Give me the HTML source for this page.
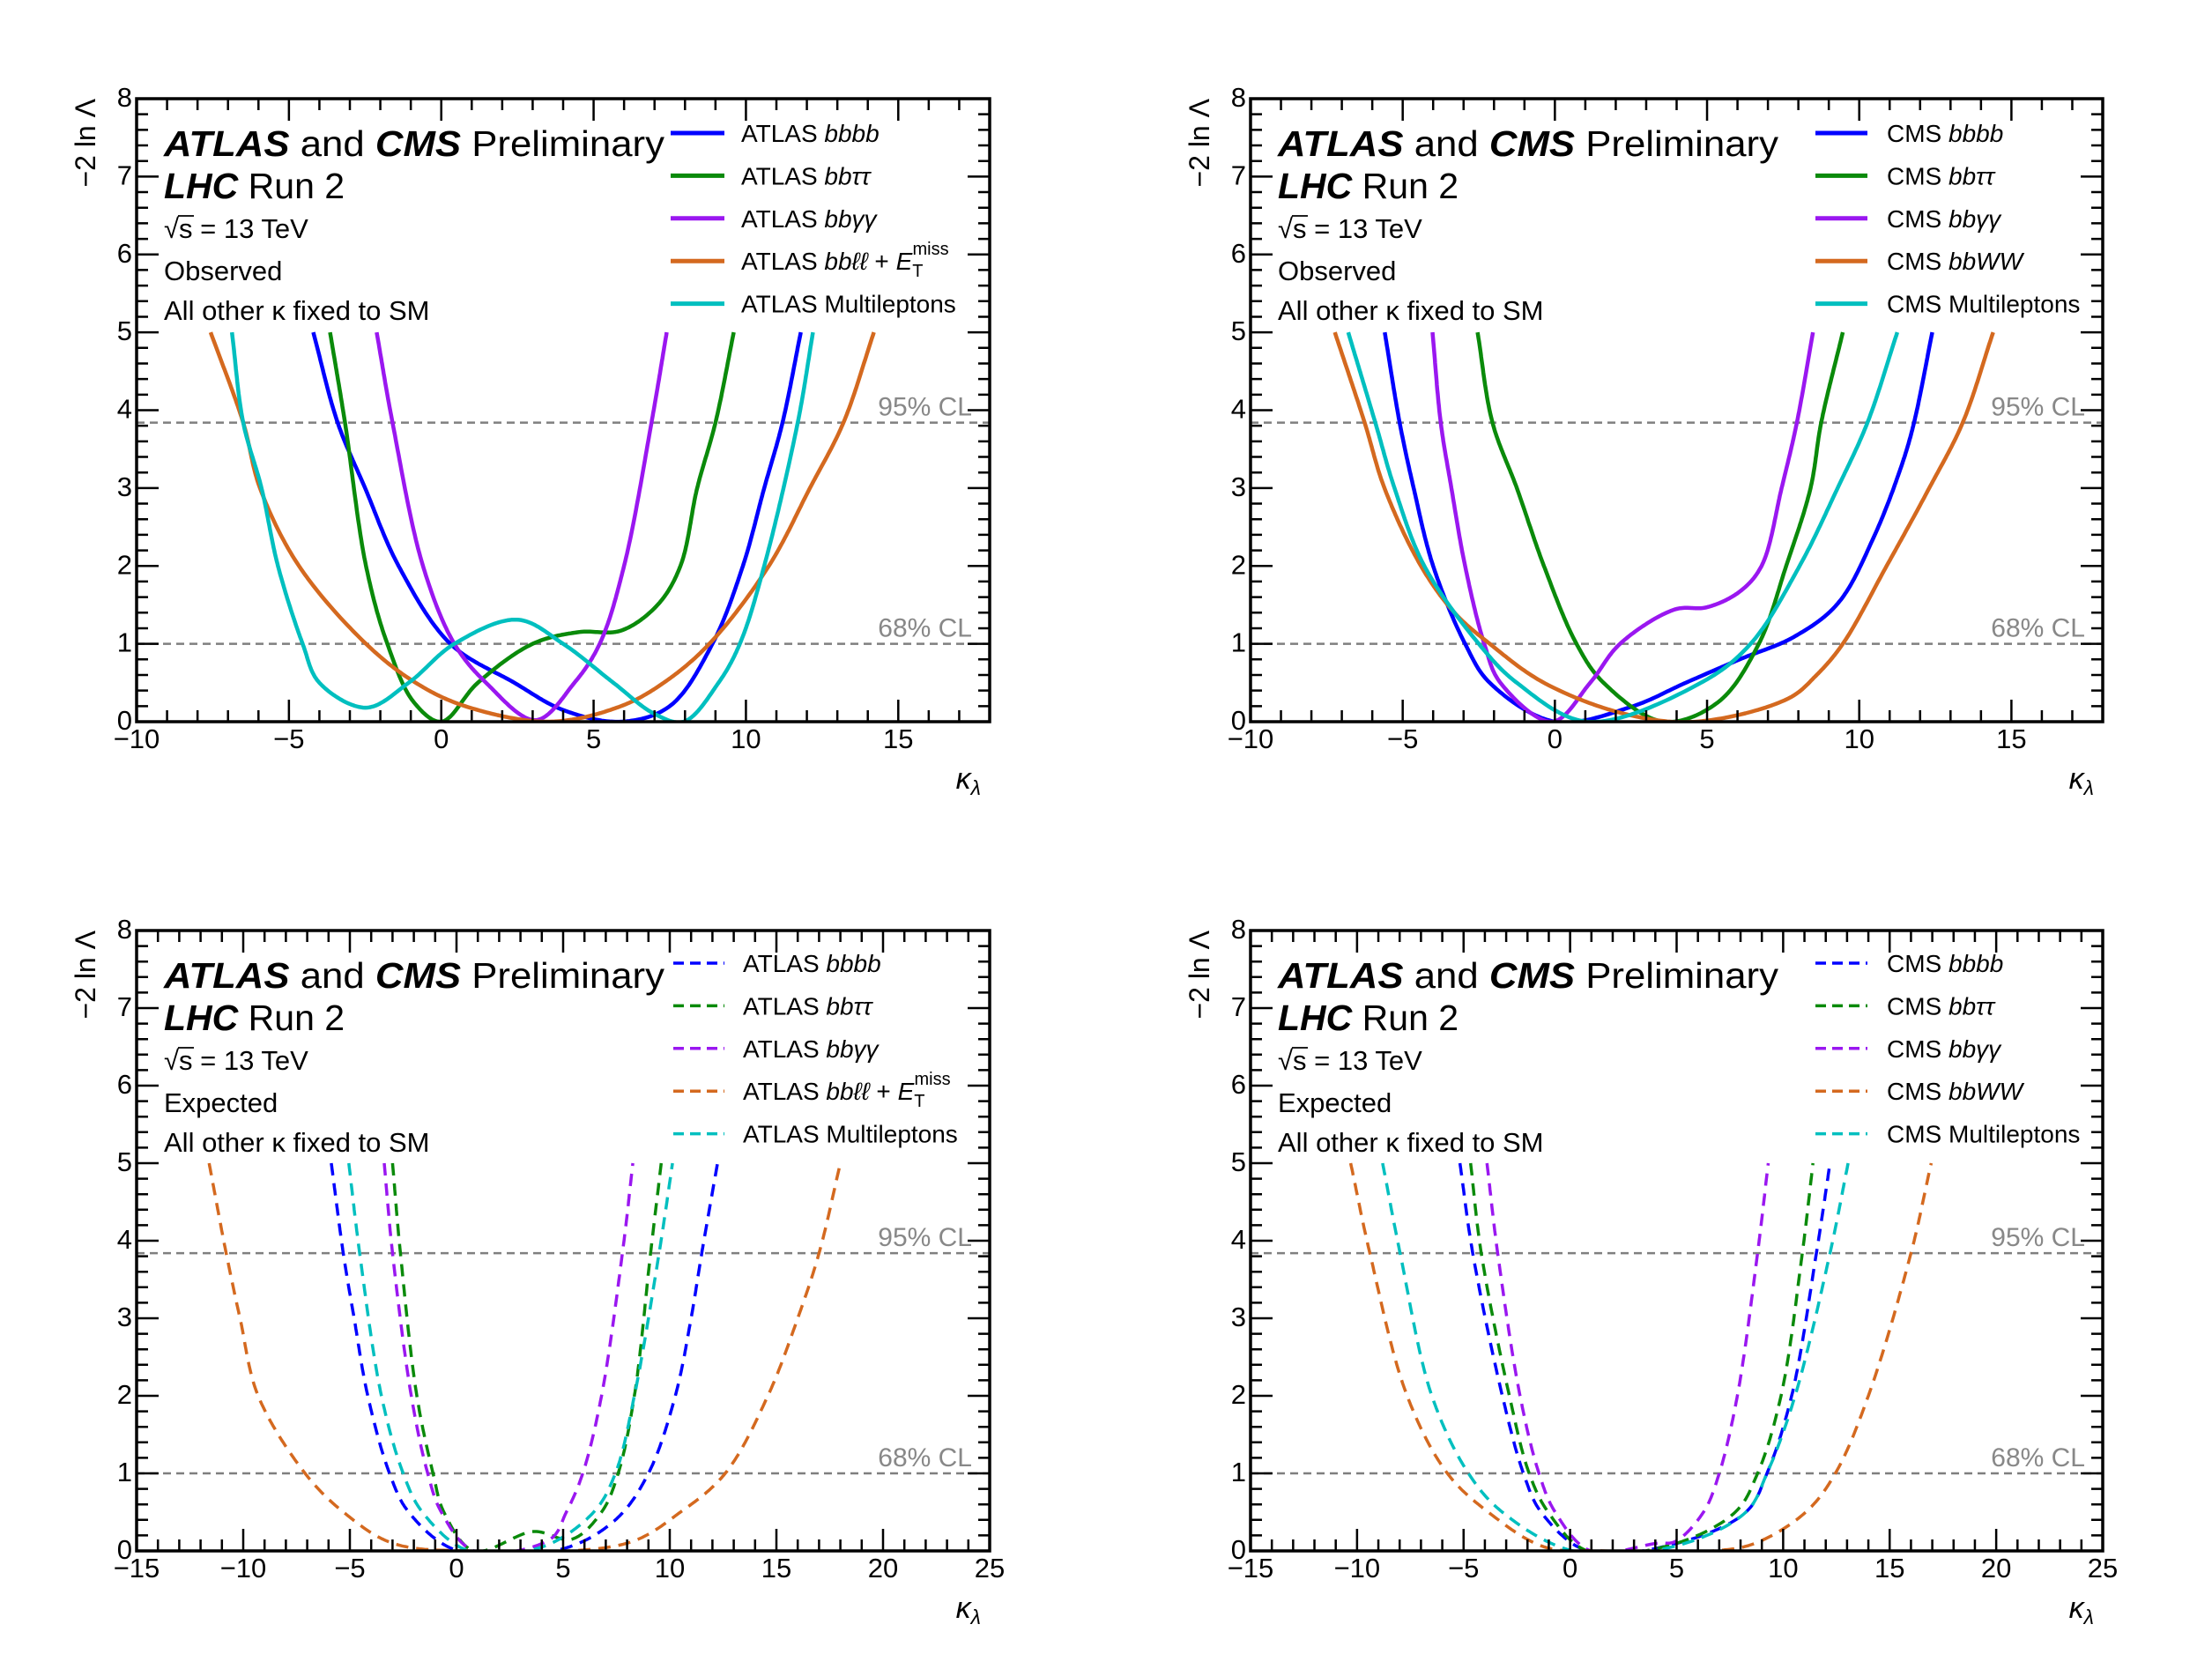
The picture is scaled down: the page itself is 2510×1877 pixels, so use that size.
<!DOCTYPE html>
<html><head><meta charset="utf-8">
<style>
html,body{margin:0;padding:0;background:#fff;}
svg{display:block;font-family:"Liberation Sans","DejaVu Sans",sans-serif;}
</style></head>
<body>
<svg id="fig" xmlns="http://www.w3.org/2000/svg" width="2510" height="1877" viewBox="0 0 2510 1877"></svg>
<script>
// ---------- DATA (kappa_lambda values and -2 ln Lambda values) ----------
// Panel A: ATLAS observed
const kA_bbbb=[-4.2,-3.4,-2.5,-1.4,0.3,2.4,4.0,5.9,7.5,8.9,9.9,10.6,11.2,11.8];
const yA_bbbb=[5,3.84,3,2,1,0.5,0.15,0,0.2,1,2,3,3.84,5];
const kA_bbtt=[-3.65,-3.16,-2.47,-1.77,-0.9,0,1.2,3.0,4.5,5.9,7.1,7.85,8.4,9.0,9.6];
const yA_bbtt=[5,3.84,2,1,0.25,0,0.5,1,1.15,1.17,1.5,2,3,3.84,5];
const kA_bbgg=[-2.12,-1.6,-0.6,0.43,1.47,3.1,4.37,5.2,6.0,6.9,7.4];
const yA_bbgg=[5,3.84,2,1,0.5,0.02,0.5,1,2,3.84,5];
const kA_bbll=[-7.57,-6.5,-5.95,-4.67,-2.47,-0.84,0.78,3.56,5.9,7.3,8.8,10.75,12.1,13.2,14.2];
const yA_bbll=[5,3.84,3,2,1,0.5,0.2,0,0.2,0.5,1,2,3,3.84,5];
const kA_ml=[-6.87,-6.5,-5.9,-5.36,-4.55,-4.0,-2.47,-1.07,0.43,2.5,4.0,5.65,7.0,7.96,9.1,9.8,10.6,11.7,12.2];
const yA_ml=[5,3.84,3,2,1,0.5,0.18,0.5,1,1.31,1,0.5,0.1,0,0.5,1,2,3.84,5];
// Panel B: CMS observed
const kB_bbbb=[-5.59,-5.1,-4.64,-4.0,-2.95,-2.14,0,2.5,4.3,6.07,7.86,9.3,10.5,11.4,11.8,12.4];
const yB_bbbb=[5,3.84,3,2,1,0.5,0,0.19,0.5,0.8,1.09,1.52,2.39,3.3,3.84,5];
const kB_bbtt=[-2.54,-2.05,-1.25,-0.36,0.71,1.6,3.57,5.36,6.7,7.6,8.4,8.75,9.46];
const yB_bbtt=[5,3.84,3,2,1,0.5,0,0.25,1,2,3,3.84,5];
const kB_bbgg=[-4.02,-3.75,-3.4,-2.95,-2.32,-1.79,-0.09,1.16,2.14,3.93,5.0,6.07,6.79,7.45,7.95,8.48];
const yB_bbgg=[5,3.84,3,2,1,0.5,0,0.5,1,1.44,1.47,1.67,2,3,3.84,5];
const kB_bbww=[-7.23,-6.25,-5.6,-4.4,-3.3,-2.14,-0.36,2.3,4.64,7.68,8.6,9.46,10.9,12.3,13.4,14.4];
const yB_bbww=[5,3.84,3,2,1.4,1,0.5,0.1,0,0.3,0.6,1,2,3,3.84,5];
const kB_ml=[-6.79,-5.9,-5.27,-4.29,-2.5,-1.25,1.07,4.8,6.43,8.04,9.29,10.27,11.25];
const yB_ml=[5,3.84,3,2,1,0.5,0,0.5,1,2,3,3.84,5];
// Panel C: ATLAS expected
const kC_bbbb=[-5.87,-5.31,-4.8,-4.16,-3.14,-2.24,0.05,4.9,7.45,9.0,10.26,11.0,11.5,12.24];
const yC_bbbb=[5,3.84,3,2,1,0.5,0,0.02,0.4,1,2,3,3.84,5];
const kC_bbtt=[-3.0,-2.63,-1.86,-1.1,-0.59,0.82,3.62,5.4,6.8,7.58,8.34,9.1,9.6];
const yC_bbtt=[5,3.84,2,1,0.5,0,0.25,0.15,0.5,1,2,3.84,5];
const kC_bbgg=[-3.39,-3.0,-2.12,-1.35,-0.71,0.82,4.39,5.15,5.92,6.8,7.78,8.27];
const yC_bbgg=[5,3.84,2,1,0.5,0,0.15,0.5,1,2,3.84,5];
const kC_bbll=[-11.6,-10.8,-10.15,-9.3,-7.1,-5.3,-3.0,0.8,8.0,10.5,12.6,14.6,16.0,17.0,18.0];
const yC_bbll=[5,3.84,3,2,1,0.5,0.1,0,0.1,0.5,1,2,3,3.84,5];
const kC_ml=[-5.05,-4.54,-3.52,-2.5,-1.6,0.56,4.0,6.43,7.45,8.34,9.5,10.13];
const yC_ml=[5,3.84,2,1,0.5,0,0.05,0.5,1,2,3.84,5];
// Panel D: CMS expected
const kD_bbbb=[-5.17,-4.57,-3.18,-2.19,-1.36,0.8,4.77,8.25,9.24,10.4,11.56,12.2];
const yD_bbbb=[5,3.84,2,1,0.5,0,0.08,0.5,1,2,3.84,5];
const kD_bbtt=[-4.67,-4.17,-2.85,-1.92,-1.03,0.8,4.77,7.75,8.8,9.9,10.9,11.4];
const yD_bbtt=[5,3.84,2,1,0.5,0,0.08,0.5,1,2,3.84,5];
const kD_bbgg=[-3.9,-3.4,-2.35,-1.46,-0.7,0.96,4.1,4.93,6.26,7.0,7.85,8.8,9.3];
const yD_bbgg=[5,3.84,2,1,0.5,0,0.1,0.12,0.5,1,2,3.84,5];
const kD_bbww=[-10.3,-9.4,-7.65,-5.76,-3.84,-1.2,1.5,6.75,8.7,11.06,12.45,14.0,16.0,16.95];
const yD_bbww=[5,3.84,2,1,0.5,0.05,0,0,0.1,0.5,1,2,3.84,5];
const kD_ml=[-8.8,-7.98,-6.49,-4.77,-3.18,0.13,4.77,8.25,9.24,10.56,12.2,13.05];
const yD_ml=[5,3.84,2,1,0.5,0,0.05,0.5,1,2,3.84,5];
// axis tick labels
const xTicksTop=[-10,-5,0,5,10,15];
const xTicksBot=[-15,-10,-5,0,5,10,15,20,25];
const yTicks=[0,1,2,3,4,5,6,7,8];
const clLevels=[1,3.84];
const clLabels=["68% CL","95% CL"];

// ---------- RENDER ----------
const NS="http://www.w3.org/2000/svg";
const svg=document.getElementById('fig');
function mk(tag,attrs,parent){const e=document.createElementNS(NS,tag);for(const k in attrs)e.setAttribute(k,attrs[k]);(parent||svg).appendChild(e);return e;}
const COL={blue:"#0000ff",green:"#0a8a0a",purple:"#9a17f0",orange:"#d4691f",cyan:"#00bfbf"};

// centripetal Catmull-Rom through pixel points
function crPath(pts){
  const n=pts.length;
  const P=[[2*pts[0][0]-pts[1][0],2*pts[0][1]-pts[1][1]],...pts,[2*pts[n-1][0]-pts[n-2][0],2*pts[n-1][1]-pts[n-2][1]]];
  const dist=(a,b)=>Math.max(1e-6,Math.pow(Math.hypot(b[0]-a[0],b[1]-a[1]),0.5));
  let d="M"+pts[0][0].toFixed(1)+","+pts[0][1].toFixed(1);
  for(let i=1;i<P.length-2;i++){
    const p0=P[i-1],p1=P[i],p2=P[i+1],p3=P[i+2];
    const t0=0,t1=t0+dist(p0,p1),t2=t1+dist(p1,p2),t3=t2+dist(p2,p3);
    const S=30;
    for(let j=1;j<=S;j++){
      const t=t1+(t2-t1)*j/S;
      const L=(a,b,ta,tb)=>[(tb-t)/(tb-ta)*a[0]+(t-ta)/(tb-ta)*b[0],(tb-t)/(tb-ta)*a[1]+(t-ta)/(tb-ta)*b[1]];
      const A1=L(p0,p1,t0,t1),A2=L(p1,p2,t1,t2),A3=L(p2,p3,t2,t3);
      const B1=L(A1,A2,t0,t2),B2=L(A2,A3,t1,t3);
      const C=L(B1,B2,t1,t2);
      d+="L"+C[0].toFixed(1)+","+C[1].toFixed(1);
    }
  }
  return d;
}

const panels=[
 {id:"atlas-observed",x0:155,x1:1123,y0:112,y1:819,xmin:-10,xmax:18,xt:xTicksTop,dash:false,status:"Observed",exp:"ATLAS",legLine:[606,667],legText:686,legY:39,
  series:[["ATLAS bbbb",kA_bbbb,yA_bbbb,COL.blue],["ATLAS bbtt",kA_bbtt,yA_bbtt,COL.green],["ATLAS bbgg",kA_bbgg,yA_bbgg,COL.purple],["ATLAS bbll",kA_bbll,yA_bbll,COL.orange],["ATLAS ml",kA_ml,yA_ml,COL.cyan]]},
 {id:"cms-observed",x0:1419,x1:2386,y0:112,y1:819,xmin:-10,xmax:18,xt:xTicksTop,dash:false,status:"Observed",exp:"CMS",legLine:[641,700],legText:722,legY:39,
  series:[["CMS bbbb",kB_bbbb,yB_bbbb,COL.blue],["CMS bbtt",kB_bbtt,yB_bbtt,COL.green],["CMS bbgg",kB_bbgg,yB_bbgg,COL.purple],["CMS bbww",kB_bbww,yB_bbww,COL.orange],["CMS ml",kB_ml,yB_ml,COL.cyan]]},
 {id:"atlas-expected",x0:155,x1:1123,y0:1056,y1:1760,xmin:-15,xmax:25,xt:xTicksBot,dash:true,status:"Expected",exp:"ATLAS",legLine:[609,667],legText:688,legY:37,
  series:[["ATLAS bbbb",kC_bbbb,yC_bbbb,COL.blue],["ATLAS bbtt",kC_bbtt,yC_bbtt,COL.green],["ATLAS bbgg",kC_bbgg,yC_bbgg,COL.purple],["ATLAS bbll",kC_bbll,yC_bbll,COL.orange],["ATLAS ml",kC_ml,yC_ml,COL.cyan]]},
 {id:"cms-expected",x0:1419,x1:2386,y0:1056,y1:1760,xmin:-15,xmax:25,xt:xTicksBot,dash:true,status:"Expected",exp:"CMS",legLine:[641,700],legText:722,legY:37,
  series:[["CMS bbbb",kD_bbbb,yD_bbbb,COL.blue],["CMS bbtt",kD_bbtt,yD_bbtt,COL.green],["CMS bbgg",kD_bbgg,yD_bbgg,COL.purple],["CMS bbww",kD_bbww,yD_bbww,COL.orange],["CMS ml",kD_ml,yD_ml,COL.cyan]]}
];

function legendLabel(t,name,exp){
  const map={bbbb:"bbbb",bbtt:"bbττ",bbgg:"bbγγ",bbww:"bbWW"};
  const key=name.split(' ')[1];
  if(key==="ml"){t.textContent=exp+" Multileptons";return;}
  const a=mk('tspan',{},t);a.textContent=exp+" ";
  if(key==="bbll"){
    const b=mk('tspan',{'font-style':'italic'},t);b.textContent="bbℓℓ";
    const c=mk('tspan',{},t);c.textContent=" + ";
    const d=mk('tspan',{'font-style':'italic'},t);d.textContent="E";
    const e=mk('tspan',{'font-size':'20','dy':'8'},t);e.textContent="T";
    const f=mk('tspan',{'font-size':'20','dx':'-12','dy':'-25'},t);f.textContent="miss";
    return;
  }
  const b=mk('tspan',{'font-style':'italic'},t);b.textContent=map[key];
}

panels.forEach((P,pi)=>{
  const g=mk('g',{});
  
  
  const X=k=>P.x0+(k-P.xmin)/(P.xmax-P.xmin)*(P.x1-P.x0);
  const Y=v=>P.y1-v/8*(P.y1-P.y0);
  const clipId='clip'+pi;
  const cp=mk('clipPath',{id:clipId},g);mk('rect',{x:P.x0,y:P.y0,width:P.x1-P.x0,height:P.y1-P.y0},cp);

  clLevels.forEach((v,i)=>{
    const l=mk('line',{x1:P.x0,x2:P.x1,y1:Y(v),y2:Y(v),stroke:'#7f7f7f','stroke-width':2.5,'stroke-dasharray':'9 6'},g);
    
    
    const t=mk('text',{x:P.x1-20,y:Y(v)-8,'text-anchor':'end','font-size':30,fill:'#888'},g);
    t.textContent=clLabels[i];
    
    
  });

  P.series.forEach(s=>{
    const ks=s[1],vs=s[2];
    const pts=ks.map((k,i)=>[X(k),Y(vs[i])]);
    const path=mk('path',{d:crPath(pts),fill:'none',stroke:s[3],'stroke-width':P.dash?3.5:4.5,'stroke-dasharray':P.dash?'14 9':'none','clip-path':'url(#'+clipId+')','stroke-linejoin':'round'},g);
    
    
  });

  const fr=mk('rect',{x:P.x0,y:P.y0,width:P.x1-P.x0,height:P.y1-P.y0,fill:'none',stroke:'#000','stroke-width':3.5},g);
  
  

  let td="";
  for(let k=Math.ceil(P.xmin);k<=P.xmax;k++){
    const len=(k%5===0)?25:13,x=X(k);
    td+=`M${x},${P.y1}v${-len}M${x},${P.y0}v${len}`;
  }
  for(let j=0;j<=40;j++){
    const v=j*0.2,len=(j%5===0)?25:13,y=Y(v);
    td+=`M${P.x0},${y}h${len}M${P.x1},${y}h${-len}`;
  }
  const tk=mk('path',{d:td,stroke:'#000','stroke-width':2.5,fill:'none'},g);
  
  

  P.xt.forEach(k=>{
    const t=mk('text',{x:X(k),y:P.y1+30,'text-anchor':'middle','font-size':31},g);
    t.textContent=(k<0?"−":"")+Math.abs(k);
    
    
  });
  yTicks.forEach(v=>{
    const t=mk('text',{x:P.x0-5,y:Y(v)+9,'text-anchor':'end','font-size':31},g);
    t.textContent=v;
    
    
  });
  const xt=mk('text',{x:P.x1-10,y:P.y1+76,'text-anchor':'end','font-size':34,'font-style':'italic'},g);
  
  
  const xa=mk('tspan',{},xt);xa.textContent="κ";
  const xb=mk('tspan',{'font-size':23,dy:7},xt);xb.textContent="λ";
  const yt=mk('text',{transform:`translate(${P.x0-47},${P.y0}) rotate(-90)`,'text-anchor':'end','font-size':32},g);
  yt.textContent="−2 ln Λ";
  
  

  const tx=P.x0+31;
  const t1=mk('text',{x:tx,y:P.y0+65,'font-size':41,textLength:568,lengthAdjust:'spacingAndGlyphs'},g);
  
  
  let s1=mk('tspan',{'font-weight':'bold','font-style':'italic'},t1);s1.textContent="ATLAS";
  s1=mk('tspan',{},t1);s1.textContent=" and ";
  s1=mk('tspan',{'font-weight':'bold','font-style':'italic'},t1);s1.textContent="CMS";
  s1=mk('tspan',{},t1);s1.textContent=" Preliminary";
  const t2=mk('text',{x:tx,y:P.y0+113,'font-size':41},g);
  
  
  s1=mk('tspan',{'font-weight':'bold','font-style':'italic'},t2);s1.textContent="LHC";
  s1=mk('tspan',{},t2);s1.textContent=" Run 2";
  const t3=mk('text',{x:tx,y:P.y0+158,'font-size':31},g);
  t3.textContent="√s = 13 TeV";
  
  
  const ov=mk('line',{x1:tx+16,x2:tx+34,y1:P.y0+133,y2:P.y0+133,stroke:'#000','stroke-width':1.8},g);
  
  
  const t4=mk('text',{x:tx,y:P.y0+206,'font-size':31},g);
  t4.textContent=P.status;
  
  
  const t5=mk('text',{x:tx,y:P.y0+251,'font-size':31},g);
  t5.textContent="All other κ fixed to SM";
  
  

  P.series.forEach((s,i)=>{
    const y=P.y0+P.legY+i*48.4;
    const le=mk('g',{},g);
    
    
    mk('line',{x1:P.x0+P.legLine[0],x2:P.x0+P.legLine[1],y1:y,y2:y,stroke:s[3],'stroke-width':P.dash?3.5:5,'stroke-dasharray':P.dash?'12 7':'none'},le);
    const t=mk('text',{x:P.x0+P.legText,y:y+10,'font-size':28},le);
    legendLabel(t,s[0],P.exp);
  });
});
</script>
</body></html>
